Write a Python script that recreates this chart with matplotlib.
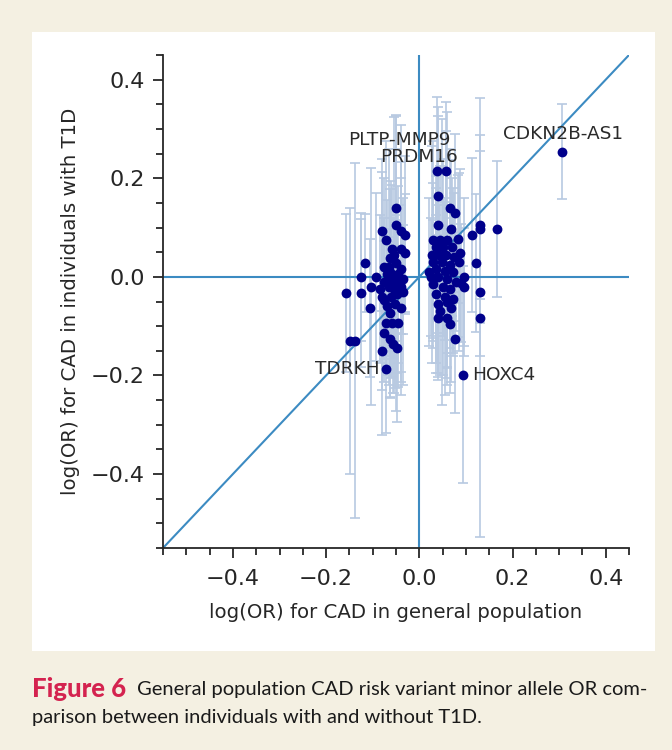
import matplotlib.pyplot as plt
from matplotlib.ticker import MultipleLocator
from matplotlib.patches import Rectangle

# log(OR) per variant: general population (x) vs individuals with T1D (y), with y error
x_gen = [
    # left cluster
    -0.049, -0.081, -0.049, -0.039, -0.030, -0.071, -0.058, -0.039, -0.030, -0.116,
    -0.075, -0.062, -0.051, -0.126, -0.092, -0.062, -0.158, -0.103, -0.126, -0.081,
    -0.075, -0.105, -0.062, -0.071, -0.058, -0.045, -0.040, -0.075, -0.062, -0.056,
    -0.047, -0.081, -0.148, -0.137, -0.071,
    -0.070, -0.060, -0.050, -0.045, -0.065, -0.055, -0.040, -0.075, -0.048, -0.060,
    -0.035, -0.066, -0.040, -0.055, -0.070, -0.052, -0.035, -0.085,
    # right cluster
    0.039, 0.058, 0.041, 0.066, 0.077, 0.041, 0.068, 0.130, 0.130, 0.113,
    0.167, 0.083, 0.088, 0.122, 0.096, 0.096, 0.130, 0.068, 0.041, 0.060,
    0.066, 0.130, 0.077, 0.094,
    0.030, 0.045, 0.060, 0.035, 0.050, 0.070, 0.028, 0.042, 0.058, 0.075,
    0.030, 0.048, 0.065, 0.035, 0.055, 0.072, 0.025, 0.040, 0.060, 0.078,
    0.030, 0.050, 0.065, 0.035, 0.055, 0.072, 0.040, 0.060, 0.045, 0.090,
    0.020, 0.085,
    # CDKN2B-AS1
    0.306,
]
y_t1d = [
    0.140, 0.093, 0.106, 0.093, 0.085, 0.075, 0.057, 0.057, 0.049, 0.028,
    0.020, 0.039, 0.028, 0.000, 0.000, 0.010, -0.033, -0.020, -0.033, -0.040,
    -0.047, -0.063, -0.073, -0.093, -0.093, -0.093, -0.063, -0.114, -0.126, -0.136,
    -0.144, -0.150, -0.130, -0.130, -0.187,
    0.005, -0.005, -0.010, 0.005, -0.020, -0.025, -0.020, -0.010, -0.035, -0.040,
    -0.030, 0.020, 0.015, 0.045, -0.060, -0.055, -0.005, -0.025,
    0.215, 0.215, 0.165, 0.140, 0.130, 0.106, 0.097, 0.106, 0.097, 0.085,
    0.097, 0.077, 0.049, 0.028, 0.000, -0.020, -0.030, -0.063, -0.083, -0.083,
    -0.095, -0.083, -0.126, -0.199,
    0.075, 0.075, 0.075, 0.060, 0.060, 0.060, 0.045, 0.045, 0.045, 0.040,
    0.030, 0.030, 0.025, 0.015, 0.012, 0.010, 0.000, 0.000, -0.005, -0.010,
    -0.015, -0.020, -0.025, -0.035, -0.040, -0.045, -0.055, -0.050, -0.070, -0.012,
    0.010, 0.030,
    0.254,
]
y_err = [
    0.12, 0.12, 0.22, 0.14, 0.16, 0.20, 0.13, 0.25, 0.12, 0.10,
    0.18, 0.14, 0.30, 0.13, 0.17, 0.11, 0.16, 0.24, 0.15, 0.28,
    0.12, 0.14, 0.17, 0.09, 0.11, 0.13, 0.15, 0.10, 0.12, 0.10,
    0.15, 0.08, 0.27, 0.36, 0.13,
    0.15, 0.20, 0.12, 0.18, 0.10, 0.14, 0.22, 0.13, 0.16, 0.11,
    0.19, 0.24, 0.13, 0.28, 0.14, 0.17, 0.11, 0.15,
    0.15, 0.14, 0.18, 0.12, 0.16, 0.22, 0.14, 0.15, 0.19, 0.157,
    0.137, 0.13, 0.17, 0.14, 0.16, 0.12, 0.13, 0.15, 0.12, 0.10,
    0.14, 0.445, 0.15, 0.22,
    0.20, 0.15, 0.26, 0.12, 0.18, 0.14, 0.22, 0.10, 0.25, 0.13,
    0.16, 0.29, 0.11, 0.19, 0.14, 0.17, 0.12, 0.21, 0.15, 0.10,
    0.13, 0.18, 0.12, 0.16, 0.20, 0.11, 0.14, 0.17, 0.13, 0.12,
    0.15, 0.18,
    0.097,
]

gene_names = ['PLTP-MMP9', 'PRDM16', 'CDKN2B-AS1', 'TDRKH', 'HOXC4']
gene_pos = [(-0.043, 0.277), (0.0, 0.243), (0.308, 0.29), (-0.085, -0.187), (0.113, -0.200)]
gene_ha = ['center', 'center', 'center', 'right', 'left']

fig = plt.figure(figsize=(6.72, 7.5), dpi=100)
fig.patch.set_facecolor('#f4f0e2')

# white panel behind the plot
fig.patches.append(Rectangle((32 / 672, 1 - 651 / 750), 623 / 672, 619 / 750,
                             transform=fig.transFigure, facecolor='white',
                             edgecolor='none', zorder=-5))

ax = fig.add_axes([163 / 672, 1 - 548 / 750, 466 / 672, 493 / 750])
ax.set_facecolor('white')

ax.errorbar(x_gen, y_t1d, yerr=y_err, fmt='none', ecolor='#b8c9e1',
            elinewidth=1.2, capsize=3.5, capthick=1.2, zorder=1)
ax.plot([-0.55, 0.45], [-0.55, 0.45], color='#3c8bc2', lw=1.5, zorder=2)
ax.axhline(0, color='#3c8bc2', lw=1.5, zorder=2)
ax.axvline(0, color='#3c8bc2', lw=1.5, zorder=2)
ax.scatter(x_gen, y_t1d, s=50, color='#00008b', zorder=3, linewidths=0)

for name, (tx, ty), ha in zip(gene_names, gene_pos, gene_ha):
    ax.text(tx, ty, name, ha=ha, va='center', fontsize=13.3, color='#2a2a2a',
            family='DejaVu Sans')

ax.set_xlim(-0.55, 0.45)
ax.set_ylim(-0.55, 0.45)
for side in ['top', 'right']:
    ax.spines[side].set_visible(False)
for side in ['left', 'bottom']:
    ax.spines[side].set_linewidth(1.3)
    ax.spines[side].set_color('#262626')

ax.xaxis.set_major_locator(MultipleLocator(0.2))
ax.yaxis.set_major_locator(MultipleLocator(0.2))
ax.xaxis.set_minor_locator(MultipleLocator(0.05))
ax.yaxis.set_minor_locator(MultipleLocator(0.05))
ax.tick_params(which='major', length=7, width=1.3, labelsize=16,
               colors='#262626', direction='out', pad=6)
ax.tick_params(axis='x', which='major', pad=8)
ax.tick_params(which='minor', length=5, width=1.3, colors='#262626', direction='out')

ax.set_xlabel('log(OR) for CAD in general population', fontsize=14.2,
              color='#262626', labelpad=10)
ax.set_ylabel('log(OR) for CAD in individuals with T1D', fontsize=14.2,
              color='#262626', labelpad=8)

# caption under the panel
fig.text(32 / 672, 1 - 689 / 750, 'Figure 6', fontsize=18.5, fontweight='black',
         color='#d4234f', family='Lato', va='center')
fig.text(137 / 672, 1 - 689 / 750,
         'General population CAD risk variant minor allele OR com-',
         fontsize=14.5, color='#1a1a1a', family='Lato', va='center')
fig.text(32 / 672, 1 - 717 / 750, 'parison between individuals with and without T1D.',
         fontsize=14.5, color='#1a1a1a', family='Lato', va='center')

fig.savefig('out.png', dpi=100, facecolor=fig.get_facecolor())
